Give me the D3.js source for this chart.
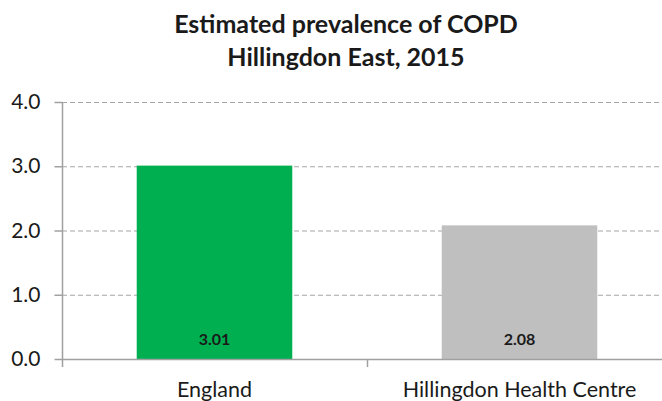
<!DOCTYPE html>
<html>
<head>
<meta charset="utf-8">
<script src="https://cdn.jsdelivr.net/npm/d3@7"></script>
<style>
  body { margin: 0; background: #fff; }
  text { font-family: Lato, "Open Sans", sans-serif; fill: #1a1a1a; }
</style>
</head>
<body>
<svg id="chart" width="662" height="401"></svg>
<script>
// chart data
var categories = ['England', 'Hillingdon Health Centre'];
var values = [3.01, 2.08];
var barColors = ['#00b050', '#bfbfbf'];
var yTicks = [0, 1, 2, 3, 4];
var titleLines = ['Estimated prevalence of COPD', 'Hillingdon East, 2015'];

var svg = d3.select('#chart');
var plotLeft = 62, plotRight = 672, plotTop = 102, plotBottom = 359;

var x = d3.scaleBand()
    .domain(categories)
    .range([plotLeft, plotRight])
    .paddingInner(0.49)
    .paddingOuter(0.245);

var y = d3.scaleLinear()
    .domain([0, 4])
    .range([plotBottom, plotTop]);

// title
svg.selectAll('.title')
    .data(titleLines)
    .enter().append('text')
    .attr('class', 'title')
    .attr('x', 346)
    .attr('y', (d, i) => 33 + i * 33)
    .attr('text-anchor', 'middle')
    .style('font-size', '25px')
    .style('font-weight', 'bold')
    .text(d => d);

// gridlines
svg.selectAll('.grid')
    .data(yTicks.filter(d => d > 0))
    .enter().append('line')
    .attr('x1', plotLeft).attr('x2', 662)
    .attr('y1', d => y(d) + 0.5).attr('y2', d => y(d) + 0.5)
    .attr('stroke', '#a6a6a6')
    .attr('stroke-dasharray', '5,3');

// bars
svg.selectAll('.bar')
    .data(values)
    .enter().append('rect')
    .attr('x', (d, i) => x(categories[i]))
    .attr('width', x.bandwidth())
    .attr('y', d => y(d))
    .attr('height', d => plotBottom - y(d))
    .attr('fill', (d, i) => barColors[i]);

// value labels
svg.selectAll('.val')
    .data(values)
    .enter().append('text')
    .attr('x', (d, i) => x(categories[i]) + x.bandwidth() / 2)
    .attr('y', 345)
    .attr('text-anchor', 'middle')
    .style('font-size', '16px')
    .style('font-weight', 'bold')
    .text(d => d.toFixed(2));

// y axis
var yAxis = svg.append('g')
    .attr('transform', 'translate(' + (plotLeft + 0.5) + ',0)')
    .call(d3.axisLeft(y).tickValues(yTicks).tickFormat(d3.format('.1f')).tickSize(8).tickPadding(14));
yAxis.select('.domain').attr('d', 'M0,' + plotTop + 'V' + (plotBottom + 8)).attr('stroke', '#a0a0a0').attr('stroke-width', 1.5);
yAxis.selectAll('.tick line').attr('stroke', '#a0a0a0').attr('stroke-width', 1.5);
yAxis.selectAll('.tick text').style('font-size', '21px').attr('font-family', null).style('fill', '#1a1a1a');

// x axis
var xAxis = svg.append('g')
    .attr('transform', 'translate(0,' + (plotBottom + 0.5) + ')')
    .call(d3.axisBottom(x).tickSize(0).tickPadding(22));
xAxis.select('.domain').attr('d', 'M' + plotLeft + ',0H662').attr('stroke', '#a0a0a0').attr('stroke-width', 1.5);
xAxis.selectAll('.tick text').style('font-size', '21.5px').attr('font-family', null).style('fill', '#1a1a1a');

// category divider ticks
svg.selectAll('.sep')
    .data(categories.slice(1))
    .enter().append('line')
    .attr('x1', d => x(d) - x.step() * x.paddingInner() / 2 + 0.5)
    .attr('x2', d => x(d) - x.step() * x.paddingInner() / 2 + 0.5)
    .attr('y1', plotBottom).attr('y2', plotBottom + 8)
    .attr('stroke', '#a0a0a0').attr('stroke-width', 1.5);
</script>
</body>
</html>
